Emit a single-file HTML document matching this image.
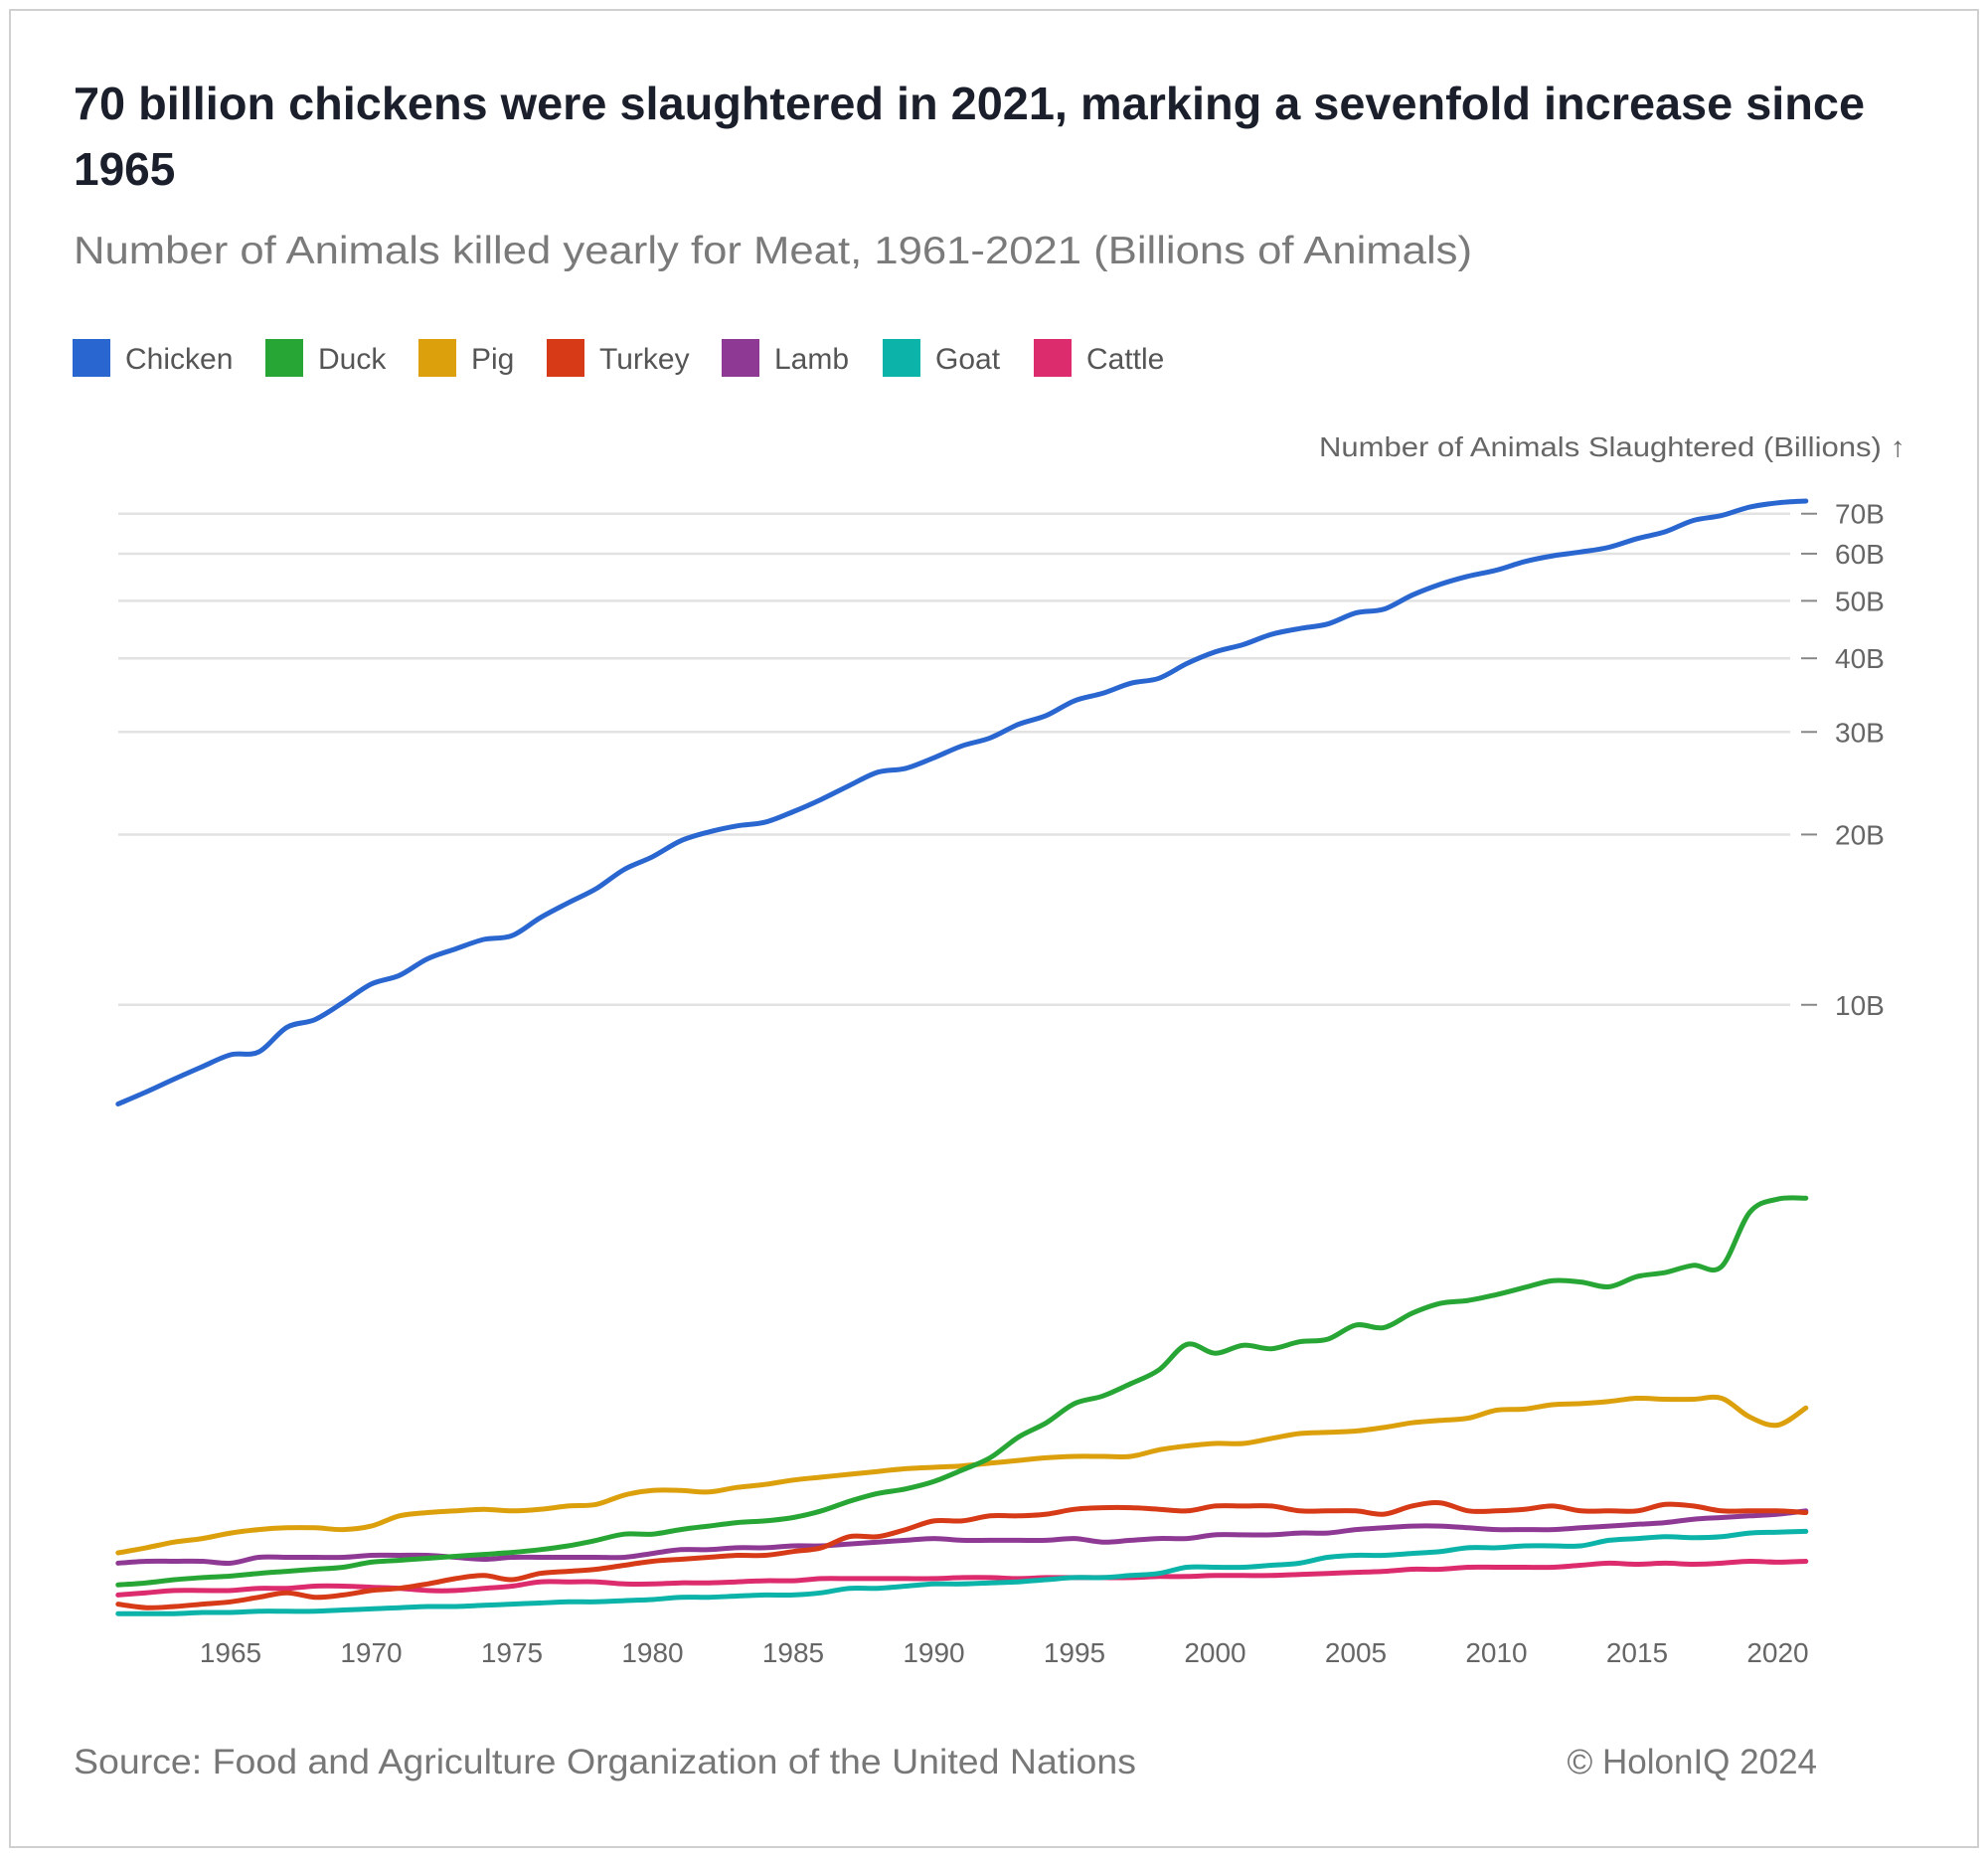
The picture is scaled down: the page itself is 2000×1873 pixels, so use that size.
<!DOCTYPE html>
<html><head><meta charset="utf-8"><style>
body{margin:0;background:#fff;}
svg text{font-family:"Liberation Sans",sans-serif;}
</style></head><body>
<svg id="chart" width="2000" height="1868" viewBox="0 0 2000 1868" xmlns="http://www.w3.org/2000/svg">
<rect x="10" y="10" width="1980" height="1848" fill="#fff" stroke="#d0d0d0" stroke-width="2"/>
<text x="74" y="120" font-size="46" font-weight="bold" fill="#1a1f2b" textLength="1802" lengthAdjust="spacingAndGlyphs">70 billion chickens were slaughtered in 2021, marking a sevenfold increase since</text>
<text x="74" y="186" font-size="46" font-weight="bold" fill="#1a1f2b">1965</text>
<text x="74" y="265" font-size="39" fill="#7a7a7a" textLength="1407" lengthAdjust="spacingAndGlyphs">Number of Animals killed yearly for Meat, 1961-2021 (Billions of Animals)</text>
<g id="legend"></g>
<text x="1917" y="459" font-size="28" fill="#666" text-anchor="end" textLength="590" lengthAdjust="spacingAndGlyphs">Number of Animals Slaughtered (Billions) ↑</text>
<g id="grid"></g><g id="xaxis"></g><g id="series"></g>
<text x="74" y="1784" font-size="35" fill="#777" textLength="1069" lengthAdjust="spacingAndGlyphs">Source: Food and Agriculture Organization of the United Nations</text>
<text x="1828" y="1784" font-size="35" fill="#777" text-anchor="end">© HolonIQ 2024</text>
</svg>
<script>
const years=[];for(let y=1961;y<=2021;y++)years.push(y);
const seriesNames=["Chicken","Duck","Pig","Turkey","Lamb","Goat","Cattle"];
const seriesColors=["#2a66d0","#28a635","#dba00c","#d63a16","#8e3a95","#0cb3a8","#dd2c6e"];
const chicken=[6.55,6.9,7.3,7.7,8.1,8.2,9.1,9.4,10.1,10.9,11.3,12.1,12.6,13.1,13.3,14.3,15.2,16.1,17.4,18.3,19.5,20.2,20.7,21.0,21.9,23.0,24.3,25.6,26.0,27.1,28.4,29.3,30.9,32.0,33.9,34.9,36.3,37.0,39.2,41.0,42.2,43.9,44.9,45.7,47.7,48.4,51.1,53.3,55.0,56.3,58.2,59.5,60.4,61.5,63.6,65.3,68.2,69.5,71.8,73.0,73.5];
const duck=[0.216,0.225,0.24,0.25,0.257,0.27,0.28,0.29,0.3,0.325,0.335,0.345,0.355,0.365,0.375,0.39,0.41,0.44,0.474,0.474,0.5,0.52,0.54,0.55,0.57,0.61,0.67,0.72,0.75,0.8,0.88,0.97,1.13,1.25,1.42,1.49,1.61,1.75,2.03,1.93,2.02,1.98,2.06,2.09,2.26,2.23,2.41,2.54,2.58,2.66,2.76,2.86,2.84,2.77,2.92,2.98,3.09,3.07,4.0,4.26,4.28];
const pig=[0.373,0.4,0.43,0.45,0.48,0.5,0.51,0.51,0.5,0.52,0.58,0.6,0.61,0.62,0.61,0.62,0.64,0.65,0.71,0.74,0.74,0.73,0.76,0.78,0.81,0.83,0.85,0.87,0.89,0.9,0.91,0.93,0.95,0.97,0.98,0.98,0.98,1.03,1.06,1.08,1.08,1.12,1.16,1.17,1.18,1.21,1.25,1.27,1.29,1.36,1.37,1.41,1.42,1.44,1.47,1.46,1.46,1.47,1.3,1.23,1.38];
const turkey=[0.13,0.115,0.12,0.13,0.14,0.16,0.18,0.16,0.17,0.19,0.2,0.22,0.245,0.26,0.24,0.27,0.28,0.29,0.31,0.33,0.34,0.35,0.36,0.36,0.38,0.4,0.46,0.46,0.5,0.55,0.55,0.58,0.58,0.59,0.62,0.63,0.63,0.62,0.61,0.64,0.64,0.64,0.61,0.61,0.61,0.59,0.64,0.66,0.61,0.61,0.62,0.64,0.61,0.61,0.61,0.65,0.64,0.61,0.61,0.61,0.6];
const lamb=[0.32,0.33,0.33,0.33,0.32,0.35,0.35,0.35,0.35,0.36,0.36,0.36,0.35,0.34,0.35,0.35,0.35,0.35,0.35,0.37,0.39,0.39,0.4,0.4,0.41,0.41,0.42,0.43,0.44,0.45,0.44,0.44,0.44,0.44,0.45,0.43,0.44,0.45,0.45,0.47,0.47,0.47,0.48,0.48,0.5,0.51,0.52,0.52,0.51,0.5,0.5,0.5,0.51,0.52,0.53,0.54,0.56,0.57,0.58,0.59,0.61];
const goat=[0.09,0.09,0.09,0.095,0.095,0.1,0.1,0.1,0.105,0.11,0.115,0.12,0.12,0.125,0.13,0.135,0.14,0.14,0.145,0.15,0.16,0.16,0.165,0.17,0.17,0.18,0.2,0.2,0.21,0.22,0.22,0.225,0.23,0.24,0.25,0.25,0.26,0.27,0.3,0.3,0.3,0.31,0.32,0.35,0.36,0.36,0.37,0.38,0.4,0.4,0.41,0.41,0.41,0.44,0.45,0.46,0.455,0.46,0.48,0.485,0.49];
const cattle=[0.17,0.18,0.19,0.19,0.19,0.2,0.2,0.21,0.21,0.205,0.2,0.19,0.19,0.2,0.21,0.23,0.23,0.23,0.22,0.22,0.225,0.225,0.23,0.235,0.235,0.245,0.245,0.245,0.245,0.245,0.25,0.25,0.245,0.25,0.25,0.25,0.25,0.255,0.255,0.26,0.26,0.26,0.265,0.27,0.275,0.28,0.29,0.29,0.3,0.3,0.3,0.3,0.31,0.32,0.315,0.32,0.315,0.32,0.33,0.325,0.33];
const yTicks=[10,20,30,40,50,60,70];
const yTickLabels=["10B","20B","30B","40B","50B","60B","70B"];
const xTicks=[1965,1970,1975,1980,1985,1990,1995,2000,2005,2010,2015,2020];
const allSeries=[chicken,duck,pig,turkey,lamb,goat,cattle];

const NS="http://www.w3.org/2000/svg";
const X0=118.8,PX=28.3,Y0=1646,K=610;
function xs(yr){return X0+(yr-1961)*PX;}
function ys(v){return Y0-K*Math.log10(1+v);}
function mk(tag,attrs,parent,text){const e=document.createElementNS(NS,tag);for(const k in attrs)e.setAttribute(k,attrs[k]);if(text!==undefined)e.textContent=text;parent.appendChild(e);return e;}
function smooth(pts){
  let d='M'+pts[0][0].toFixed(1)+' '+pts[0][1].toFixed(1);
  for(let i=0;i<pts.length-1;i++){
    const p0=pts[Math.max(0,i-1)],p1=pts[i],p2=pts[i+1],p3=pts[Math.min(pts.length-1,i+2)];
    const c1x=p1[0]+(p2[0]-p0[0])/6,c1y=p1[1]+(p2[1]-p0[1])/6;
    const c2x=p2[0]-(p3[0]-p1[0])/6,c2y=p2[1]-(p3[1]-p1[1])/6;
    d+=' C'+c1x.toFixed(1)+' '+c1y.toFixed(1)+' '+c2x.toFixed(1)+' '+c2y.toFixed(1)+' '+p2[0].toFixed(1)+' '+p2[1].toFixed(1);
  }
  return d;
}

const grid=document.getElementById('grid');
yTicks.forEach((t,i)=>{
  const y=ys(t);
  const l=mk('line',{x1:119,x2:1801,y1:y,y2:y,stroke:'#e2e2e2','stroke-width':2.5},grid);
  
  
  const tk=mk('line',{x1:1812,x2:1828,y1:y,y2:y,stroke:'#888','stroke-width':2},grid);
  
  
  const tx=mk('text',{x:1846,y:y+10,'font-size':28,fill:'#666'},grid,yTickLabels[i]);
  
  
});
const xa=document.getElementById('xaxis');
xTicks.forEach(t=>{
  const tx=mk('text',{x:xs(t),y:1672,'font-size':28,fill:'#666','text-anchor':'middle'},xa,String(t));
  
  
});
const sg=document.getElementById('series');
[6,5,4,3,2,1,0].forEach(i=>{
  const pts=allSeries[i].map((v,j)=>[xs(years[j]),ys(v)]);
  const p=mk('path',{d:smooth(pts),fill:'none',stroke:seriesColors[i],'stroke-width':5,'stroke-linejoin':'round','stroke-linecap':'round'},sg);
  
  
});
const lg=document.getElementById('legend');
const swX=[73,267,421,550,726,888,1040];
seriesNames.forEach((n,i)=>{
  const r=mk('rect',{x:swX[i],y:341,width:38,height:38,fill:seriesColors[i]},lg);
  
  
  const t=mk('text',{x:swX[i]+53,y:371,'font-size':30,fill:'#555'},lg,n);
  
  
});
</script>
</body></html>
